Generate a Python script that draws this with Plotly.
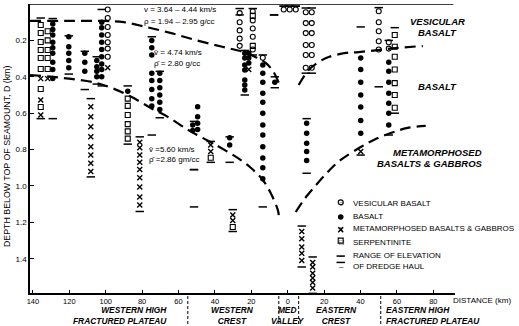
import plotly.graph_objects as go

# ---------------- data (distance km: west negative, depth km) ----------------
VESICULAR = [
    (-98.9, [0.03, 0.077, 0.126, 0.17, 0.21, 0.245, 0.29]),
    (-26.4, [0.05, 0.10, 0.145, 0.19, 0.23]),
    (-19.2, [0.04, 0.09, 0.135, 0.18, 0.25]),
    (-13.7, [0.295]),
    (-2.2, [0.03]), (1.1, [0.03]), (4.4, [0.03]),
    (9.9, [0.045, 0.105, 0.16, 0.225, 0.28, 0.35]),
    (13.2, [0.045, 0.105, 0.16, 0.225, 0.28, 0.35]),
    (29.1, [1.09]),
    (50.0, [0.04, 0.10, 0.15, 0.205, 0.25]),
    (55.5, [0.21, 0.245]),
]
BASALT = [
    (-129.1, [0.11, 0.14, 0.17, 0.21, 0.24, 0.27, 0.32, 0.36, 0.41]),
    (-120.3, [0.18, 0.235, 0.27, 0.31, 0.35]),
    (-111.5, [0.27, 0.32, 0.37]),
    (-104.9, [0.31, 0.345, 0.37, 0.40]),
    (-102.2, [0.10, 0.13, 0.17, 0.21, 0.25, 0.29, 0.33, 0.36, 0.40]),
    (-87.9, [0.48]),
    (-74.7, [0.20, 0.24, 0.28, 0.38, 0.42, 0.47, 0.52, 0.56]),
    (-70.3, [0.38, 0.42, 0.46, 0.50, 0.54, 0.58]),
    (-49.5, [0.565, 0.62, 0.655, 0.69]),
    (-52.2, [0.665, 0.695]),
    (-31.9, [0.735, 0.775]),
    (-23.6, [0.27, 0.297, 0.335, 0.363, 0.418, 0.445, 0.473]),
    (-21.4, [0.27, 0.297, 0.324]),
    (-13.7, [0.335, 0.38, 0.43, 0.49, 0.54, 0.60, 0.665, 0.72, 0.785, 0.846, 0.90, 0.96]),
    (-7.1, [0.43]),
    (10.4, [0.655, 0.71, 0.765, 0.81, 0.86]),
    (29.1, [1.17]),
    (40.1, [0.297, 0.36, 0.43, 0.50, 0.566, 0.64, 0.71]),
    (55.5, [0.32, 0.37, 0.43, 0.49, 0.545, 0.60, 0.665]),
]
METAMORPHOSED = [
    (-135.7, [0.41, 0.527, 0.61]),
    (-131.9, [0.41]),
    (-98.9, [0.35]),
    (-108.2, [0.565, 0.62, 0.675, 0.73, 0.785, 0.83, 0.875, 0.92]),
    (-81.3, [0.76, 0.79, 0.83, 0.87, 0.91, 0.955, 1.005, 1.06, 1.105]),
    (-42.3, [0.775, 0.81]),
    (-21.4, [0.36]),
    (-30.2, [1.16, 1.19]),
    (7.7, [1.25, 1.29, 1.335, 1.37, 1.41]),
    (13.7, [1.42, 1.445, 1.48, 1.505, 1.53, 1.56]),
    (29.1, [1.24]),
    (40.1, [0.81]),
]
SERPENTINITE = [
    (-135.7, [0.115, 0.159, 0.209, 0.253, 0.297, 0.357, 0.467, 0.566]),
    (-131.9, [0.15, 0.20, 0.253, 0.297, 0.357]),
    (-87.9, [0.52, 0.56, 0.61, 0.66, 0.70, 0.74]),
    (-42.3, [0.845]),
    (-30.2, [1.225]),
    (-19.2, [0.065, 0.23]),
    (29.1, [1.30]),
    (58.8, [0.17, 0.235, 0.29, 0.36, 0.435, 0.50, 0.57]),
]
# range of elevation of dredge haul: (distance, top, bottom)
DREDGE_RANGE = [
    (-135.7, 0.077, 0.63), (-129.1, 0.08, 0.63), (-120.3, 0.175, 0.385),
    (-111.5, 0.26, 0.47), (-104.9, 0.29, 0.44), (-102.2, 0.03, 0.45),
    (-108.2, 0.52, 0.95), (-87.9, 0.45, 0.77), (-81.3, 0.73, 1.14),
    (-74.7, 0.18, 0.72), (-70.3, 0.37, 0.625), (-51.5, 0.645, 0.91),
    (-51.5, 0.91, 1.115), (-42.3, 0.755, 0.87), (-31.9, 0.73, 0.87),
    (-30.2, 1.13, 1.25), (-26.4, 0.025, 0.06), (-19.2, 0.025, 0.28),
    (-23.6, 0.255, 0.50), (-13.7, 0.28, 1.115), (-7.1, 0.40, 0.46),
    (-7.5, 0.06, 0.06), (-2.2, 0.012, 0.012), (1.1, 0.012, 0.012),
    (4.4, 0.012, 0.012), (9.9, 0.022, 0.38), (13.2, 0.022, 0.38),
    (10.4, 0.63, 0.93), (7.7, 1.22, 1.445), (13.7, 1.39, 1.59),
    (29.1, 1.385, 1.42), (40.1, 0.126, 0.83), (50.0, 0.02, 0.455),
    (55.5, 0.20, 0.72), (58.8, 0.13, 0.60),
]
# lithologic boundaries (dashed)
UPPER_W_X = [-141.6, -120, -100, -90, -78, -64, -50, -36, -24.2, -16, -12.1, -8, -4.9]
UPPER_W_D = [0.093, 0.093, 0.093, 0.10, 0.126, 0.16, 0.20, 0.235, 0.264, 0.30, 0.324, 0.37, 0.434]
UPPER_E_X = [6.0, 11.5, 17.0, 22.5, 31.9, 39.0, 49.5, 59.3, 74.2]
UPPER_E_D = [0.445, 0.363, 0.319, 0.291, 0.269, 0.264, 0.253, 0.242, 0.231]
LOWER_W_X = [-141.6, -123, -106.6, -97, -86, -75.3, -65.9, -55, -47.8, -36.8, -27.5, -20.3, -13.7, -9.3, -5.5, -4.9]
LOWER_W_D = [0.39, 0.407, 0.43, 0.46, 0.51, 0.571, 0.62, 0.69, 0.73, 0.79, 0.846, 0.90, 0.967, 1.04, 1.13, 1.16]
LOWER_E_X = [4.4, 8.8, 14.3, 22.0, 29.1, 40.1, 47.3, 56.6, 65.9, 75.8]
LOWER_E_D = [1.143, 1.077, 1.01, 0.923, 0.857, 0.786, 0.747, 0.709, 0.681, 0.67]

XTICKS = [-140, -120, -100, -80, -60, -40, -20, 0, 20, 40, 60, 80]
XTICK_TEXT = ["140", "120", "100", "80", "60", "40", "20", "0", "20", "40", "60", "80"]
YTICKS = [0, 0.2, 0.4, 0.6, 0.8, 1.0, 1.2, 1.4]
YTICK_TEXT = ["0", "0.2", "0.4", "0.6", "0.8", "1.0", "1.2", "1.4"]
PROVINCE_BOUNDS = [-54.9, -4.9, 6.0, 51.1]

# ---------------- layout geometry ----------------
W, H = 519, 326
L, R, T, B = 30, 455, 4, 293
XR = [-141.6, 91.9]
YR = [1.588, 0]
FONT = "Liberation Sans, Arial, sans-serif"


def flat(cols):
    xs, ys = [], []
    for x, ds in cols:
        for d in ds:
            xs.append(x)
            ys.append(d)
    return xs, ys


def px(xp, yp):
    return (xp - L) / (R - L), (B - yp) / (B - T)


fig = go.Figure()

rx, ry = [], []
for x, t, b in DREDGE_RANGE:
    rx += [x, x]
    ry += [t, b]
fig.add_trace(go.Scatter(x=rx, y=ry, mode="markers",
                         marker=dict(symbol="line-ew", size=6, line=dict(width=1.5, color="black"))))

for xs, ds in [(UPPER_W_X, UPPER_W_D), (UPPER_E_X, UPPER_E_D), (LOWER_W_X, LOWER_W_D), (LOWER_E_X, LOWER_E_D)]:
    fig.add_trace(go.Scatter(x=xs, y=ds, mode="lines", line=dict(color="black", width=2.2, dash="11px,6px"),
                             line_shape="spline"))

x, y = flat(SERPENTINITE)
fig.add_trace(go.Scatter(x=x, y=y, mode="markers",
                         marker=dict(symbol="square-open", size=5, color="black", line=dict(width=1.1))))
x, y = flat(VESICULAR)
fig.add_trace(go.Scatter(x=x, y=y, mode="markers",
                         marker=dict(symbol="circle-open", size=5, color="black", line=dict(width=1.1))))
x, y = flat(BASALT)
fig.add_trace(go.Scatter(x=x, y=y, mode="markers",
                         marker=dict(symbol="circle", size=5.5, color="black")))
x, y = flat(METAMORPHOSED)
fig.add_trace(go.Scatter(x=x, y=y, mode="markers",
                         marker=dict(symbol="x-thin", size=5, line=dict(width=1.4, color="black"))))

shapes = [dict(type="line", xref="x", yref="y", x0=XR[0], x1=91.0, y0=0, y1=0,
               line=dict(color="black", width=1.5))]
for bx in PROVINCE_BOUNDS:
    xp = (bx - XR[0]) / (XR[1] - XR[0])
    shapes.append(dict(type="line", xref="paper", yref="paper", x0=xp, x1=xp,
                       y0=px(0, 296)[1], y1=px(0, 326)[1],
                       line=dict(color="black", width=1, dash="3px,2px")))

ann = []


def text(s, xp, yp, size=8, anchor="left", italic=False, angle=0, yanchor="middle"):
    xx, yy = px(xp, yp)
    ann.append(dict(x=xx, y=yy, xref="paper", yref="paper", text=s, showarrow=False,
                    xanchor=anchor, yanchor=yanchor, textangle=angle, align=anchor if anchor != "center" else "center",
                    borderpad=0,
                    font=dict(family=FONT, size=size, color="black",
                              style="italic" if italic else "normal")))


text("v = 3.64 \u2013 4.44 km/s", 143, 10)
text("\u03c1 = 1.94 \u2013 2.95 g/cc", 143, 22)
text("v\u0304 = 4.74 km/s", 153, 52)
text("\u03c1\u0304 = 2.80 g/cc", 153, 63)
text("v\u0304 =5.60 km/s", 148, 149)
text("\u03c1\u0304 =2.86 gm/cc", 148, 159)

text("<b>VESICULAR</b>", 437, 21, 9.5, "center", True)
text("<b>BASALT</b>", 437, 32, 9.5, "center", True)
text("<b>BASALT</b>", 437, 87, 9.5, "center", True)
text("<b>METAMORPHOSED</b>", 437, 152, 9.5, "center", True)
text("<b>BASALTS & GABBROS</b>", 430, 163, 9.5, "center", True)

legend_rows = [("\u25cb", "VESICULAR BASALT", 203), ("\u25cf", "BASALT", 216),
               ("x", "METAMORPHOSED BASALTS & GABBROS", 229), ("\u25a1", "SERPENTINITE", 242),
               ("\u2013", "RANGE OF ELEVATION", 255), ("\u2013", "OF DREDGE HAUL", 266)]
for sym, lab, yy in legend_rows:
    text(sym, 341, yy, 8, "center")
    text(lab, 352, yy, 8.0)

text("<b>WESTERN HIGH<br>FRACTURED PLATEAU</b>", 168, 304, 8.4, "right", True, yanchor="top")
text("<b>WESTERN<br>CREST</b>", 232, 304, 8.4, "center", True, yanchor="top")
text("<b>MED<br>VALLEY</b>", 288, 304, 8.4, "center", True, yanchor="top")
text("<b>EASTERN<br>CREST</b>", 336, 304, 8.4, "center", True, yanchor="top")
text("<b>EASTERN HIGH<br>FRACTURED PLATEAU</b>", 385, 304, 8.4, "left", True, yanchor="top")
text("DISTANCE (km)", 452, 300, 8)
text("DEPTH BELOW TOP OF SEAMOUNT, D (km)", 7, 157, 8.8, "center", False, -90)

fig.update_layout(
    width=W, height=H, showlegend=False,
    margin=dict(l=L, r=W - R, t=T, b=H - B, pad=0, autoexpand=False),
    paper_bgcolor="white", plot_bgcolor="white",
    shapes=shapes, annotations=ann,
    font=dict(family=FONT, size=8, color="black"),
    xaxis=dict(range=XR, tickvals=XTICKS, ticktext=XTICK_TEXT, showgrid=False, zeroline=False,
               showline=True, linecolor="black", linewidth=1.6, ticks="inside", ticklen=3,
               tickcolor="black", tickfont=dict(size=7.5), automargin=False),
    yaxis=dict(range=YR, tickvals=YTICKS, ticktext=YTICK_TEXT, showgrid=False, zeroline=False,
               showline=True, linecolor="black", linewidth=1.6, ticks="inside", ticklen=4,
               tickcolor="black", tickfont=dict(size=8), automargin=False),
)

fig.write_html("out.html", config={"displayModeBar": False},
               post_script="document.body.style.margin='0';")
